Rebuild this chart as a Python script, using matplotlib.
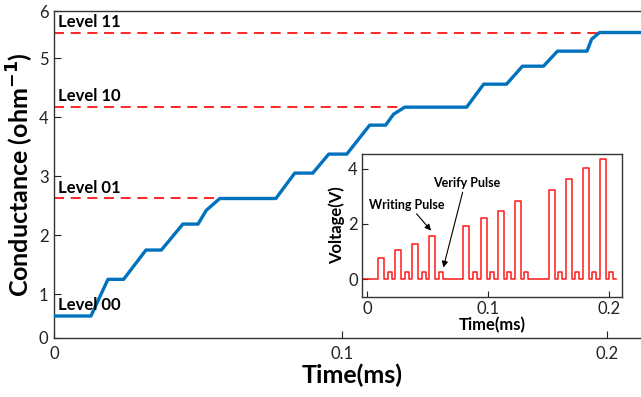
import matplotlib
matplotlib.use('Agg')
import matplotlib.pyplot as plt

plt.rcParams['font.family'] = ['Lato', 'DejaVu Sans']

# main curve: conductance staircase
t_cond = [-0.0083, 0.0056, 0.0120, 0.0179, 0.0263, 0.0321, 0.0402, 0.0459,
          0.0490, 0.0541, 0.0752, 0.0823, 0.0891, 0.0951, 0.1019, 0.1105,
          0.1165, 0.1195, 0.1237, 0.1470, 0.1534, 0.1620, 0.1680, 0.1759,
          0.1812, 0.1923, 0.1940, 0.1970, 0.2160]
g_cond = [0.627, 0.627, 1.249, 1.249, 1.746, 1.746, 2.186, 2.186,
          2.420, 2.620, 2.620, 3.051, 3.051, 3.373, 3.373, 3.864,
          3.864, 4.050, 4.169, 4.169, 4.559, 4.559, 4.864, 4.864,
          5.119, 5.119, 5.320, 5.435, 5.435]

level_names = ["Level 00", "Level 01", "Level 10", "Level 11"]
level_vals = [0.627, 2.620, 4.169, 5.435]
level_reach = [None, 0.0541, 0.1237, 0.1970]

# inset: write / verify pulses
write_start = [0.0094, 0.0234, 0.0375, 0.0515, 0.0796, 0.0939, 0.1080, 0.1220,
               0.1500, 0.1642, 0.1782, 0.1923]
write_amp = [0.78, 1.04, 1.28, 1.58, 1.94, 2.20, 2.46, 2.82, 3.23, 3.64, 4.05, 4.35]
write_width = 0.0050
verify_start = [0.0176, 0.0317, 0.0457, 0.0598, 0.0879, 0.1019, 0.1160, 0.1300,
                0.1581, 0.1722, 0.1862, 0.2003]
verify_amp = 0.27
verify_width = 0.0028
pulse_t0, pulse_t1 = -0.003, 0.206

BLUE = "#0072BD"
RED = "#FF0000"

fig = plt.figure(figsize=(6.41, 3.97), dpi=100)

# =========================
# MAIN AXES
# =========================
ax = fig.add_axes([54 / 641, 59 / 397, 596 / 641, 327 / 397])
xlo, xhi = -0.0083, 0.2160
ylo, yhi = 0.254, 5.80
ax.set_xlim(xlo, xhi)
ax.set_ylim(ylo, yhi)

for name, val, reach in zip(level_names, level_vals, level_reach):
    if reach is not None:
        ax.plot([xlo, reach], [val, val], color=RED, lw=1.2,
                dashes=(6, 4), zorder=2)
    ax.text(xlo + 0.0015, val + 0.10, name, fontsize=12, fontweight='bold',
            va='baseline', ha='left', zorder=4)

ax.plot(t_cond, g_cond, color=BLUE, lw=2.4, zorder=3, solid_joinstyle='round')

ax.set_xticks([xlo, 0.1, 0.2])
ax.set_xticklabels(["0", "0.1", "0.2"])
ax.set_yticks([ylo, 1, 2, 3, 4, 5, yhi])
ax.set_yticklabels(["0", "1", "2", "3", "4", "5", "6"])
ax.tick_params(direction='in', length=5, width=0.8, labelsize=12,
               colors='#222222')
ax.tick_params(axis='x', pad=6)
ax.tick_params(axis='y', pad=4)
for s in ax.spines.values():
    s.set_color('#333333')
    s.set_linewidth(1.0)

ax.set_xlabel("Time(ms)", fontsize=18, fontweight='bold', labelpad=1)
ax.set_ylabel("Conductance (ohm$^{\\mathbf{-1}}$)", fontsize=18,
              fontweight='bold', labelpad=2)

# =========================
# INSET
# =========================
ins = fig.add_axes([362 / 641, 100 / 397, 260 / 641, 143 / 397])
pulses = sorted([(s, write_width, a) for s, a in zip(write_start, write_amp)] +
                [(s, verify_width, verify_amp) for s in verify_start])
px, py = [pulse_t0], [0.0]
for s, w, a in pulses:
    px += [s, s, s + w, s + w]
    py += [0.0, a, a, 0.0]
px.append(pulse_t1)
py.append(0.0)
ins.plot(px, py, color=RED, lw=1.1, alpha=0.9)

ins.set_xlim(-0.0041, 0.2107)
ins.set_ylim(-0.65, 4.54)
ins.set_xticks([0, 0.1, 0.2])
ins.set_xticklabels(["0", "0.1", "0.2"])
ins.set_yticks([0, 2, 4])
ins.tick_params(direction='in', length=4, width=0.8, labelsize=12,
                colors='#222222', pad=3)
for s in ins.spines.values():
    s.set_color('#333333')
    s.set_linewidth(1.0)
ins.set_xlabel("Time(ms)", fontsize=12, fontweight='bold', labelpad=0)
ins.set_ylabel("Voltage(V)", fontsize=12, fontweight='bold', labelpad=2)

arrow = dict(arrowstyle='-|>', color='black', lw=0.8, mutation_scale=9,
             shrinkA=0, shrinkB=0)
ins.annotate("Writing Pulse", xy=(0.0529, 1.76), xytext=(0.0328, 2.69),
             fontsize=9, fontweight='bold', ha='center', va='center',
             arrowprops=dict(arrow, relpos=(0.6, 0.0)))
ins.annotate("Verify Pulse", xy=(0.0631, 0.42), xytext=(0.0824, 3.47),
             fontsize=9, fontweight='bold', ha='center', va='center',
             arrowprops=dict(arrow, relpos=(0.45, 0.0)))

fig.savefig("out.png", dpi=100)
